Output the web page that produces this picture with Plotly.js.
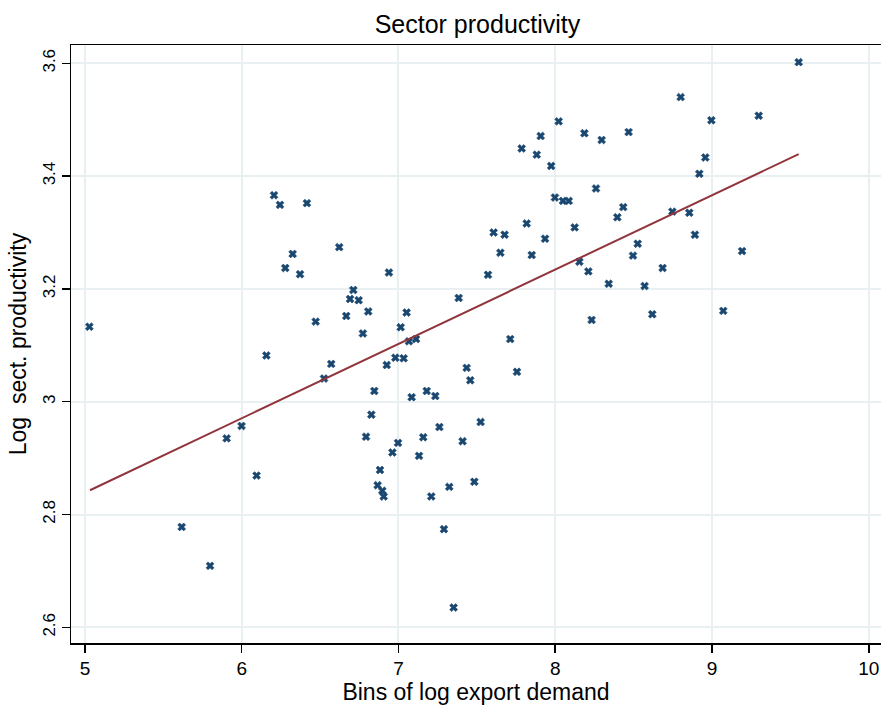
<!DOCTYPE html>
<html>
<head>
<meta charset="utf-8">
<script src="https://cdn.plot.ly/plotly-3.0.1.min.js"></script>
<style>html,body{margin:0;padding:0;background:#fff;}#chart{width:881px;height:707px;}</style>
</head>
<body>
<div id="chart"></div>
<script>
const binX = [5.028,5.617,5.798,5.904,5.999,6.095,6.157,6.206,6.244,6.278,6.325,6.372,6.416,6.472,6.525,6.571,6.622,6.667,6.691,6.712,
6.746,6.773,6.793,6.807,6.827,6.846,6.867,6.882,6.897,6.906,6.925,6.939,6.961,6.980,6.997,7.014,7.033,7.052,7.067,7.084,
7.112,7.131,7.158,7.180,7.209,7.235,7.261,7.290,7.324,7.352,7.384,7.409,7.435,7.458,7.484,7.524,7.571,7.607,7.650,7.677,
7.713,7.756,7.786,7.818,7.850,7.882,7.907,7.935,7.974,7.998,8.022,8.049,8.086,8.124,8.154,8.186,8.211,8.232,8.260,8.296,
8.341,8.396,8.434,8.468,8.496,8.526,8.570,8.619,8.685,8.747,8.800,8.855,8.891,8.919,8.957,8.996,9.072,9.192,9.298,9.553];
const prodY = [3.133,2.778,2.709,2.935,2.957,2.869,3.082,3.366,3.349,3.237,3.262,3.226,3.352,3.142,3.041,3.067,3.274,3.152,3.182,3.198,
3.180,3.121,2.938,3.160,2.977,3.019,2.852,2.879,2.842,2.832,3.065,3.229,2.910,3.078,2.927,3.132,3.077,3.158,3.107,3.008,
3.111,2.904,2.937,3.019,2.832,3.010,2.955,2.774,2.849,2.635,3.184,2.930,3.060,3.038,2.858,2.964,3.225,3.300,3.264,3.296,
3.111,3.053,3.449,3.316,3.260,3.438,3.471,3.289,3.418,3.362,3.497,3.356,3.356,3.309,3.248,3.476,3.231,3.145,3.378,3.464,
3.209,3.327,3.345,3.478,3.259,3.280,3.205,3.155,3.237,3.337,3.540,3.335,3.296,3.404,3.433,3.499,3.161,3.267,3.507,3.602];
const fitX = [5.032, 9.553];
const fitY = [2.843, 3.439];
const xTicks = [5,6,7,8,9,10];
const yTicks = [2.6,2.8,3.0,3.2,3.4,3.6];
const yTickText = ['2.6','2.8','3','3.2','3.4','3.6'];

const FONT = 'Arial, "Liberation Sans", sans-serif';
const traces = [
  {x: binX, y: prodY, type: 'scatter', mode: 'markers',
   marker: {symbol: 'x', size: 7, color: '#1a476f', line: {width: 0.6, color: '#1a476f'}}, showlegend: false, hoverinfo: 'x+y'},
  {x: fitX, y: fitY, type: 'scatter', mode: 'lines',
   line: {color: '#90353b', width: 2}, showlegend: false}
];
const layout = {
  width: 881, height: 707,
  margin: {l: 71, r: 0, t: 45, b: 64},
  paper_bgcolor: '#ffffff', plot_bgcolor: '#ffffff',
  title: {text: 'Sector productivity', x: 0.542, xanchor: 'center', y: 0.965, yanchor: 'middle',
          font: {family: FONT, size: 25, color: '#000'}},
  xaxis: {
    range: [4.911, 10.078], tickvals: xTicks, ticktext: xTicks.map(String),
    showgrid: true, gridcolor: '#e9f0f2', gridwidth: 2, zeroline: false,
    showline: true, linecolor: '#000', linewidth: 1.5, mirror: true,
    ticks: 'outside', ticklen: 8, tickcolor: '#000', tickwidth: 1.5,
    tickfont: {family: FONT, size: 19, color: '#000'},
    title: {text: 'Bins of log export demand', standoff: 4,
            font: {family: FONT, size: 23, color: '#000'}}
  },
  yaxis: {
    range: [2.5722, 3.6324], tickvals: yTicks, ticktext: yTickText, tickangle: -90,
    showgrid: true, gridcolor: '#e9f0f2', gridwidth: 2, zeroline: false,
    showline: true, linecolor: '#000', linewidth: 1.5, mirror: true,
    ticks: 'outside', ticklen: 8, tickcolor: '#000', tickwidth: 1.5,
    tickfont: {family: FONT, size: 17, color: '#000'},
    title: {text: 'Log  sect. productivity', standoff: 6,
            font: {family: FONT, size: 23, color: '#000'}}
  }
};
Plotly.newPlot('chart', traces, layout, {displayModeBar: false, staticPlot: true});
</script>
</body>
</html>
